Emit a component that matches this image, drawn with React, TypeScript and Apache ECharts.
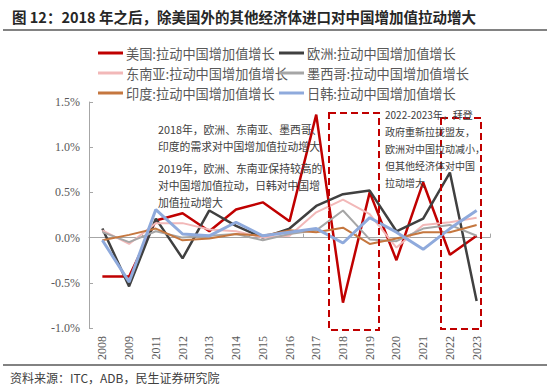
import React, { useEffect, useRef } from "react";
import * as echarts from "echarts";

const categories = ["2008", "2009", "2011", "2012", "2013", "2014", "2015", "2016", "2017", "2018", "2019", "2020", "2021", "2022", "2023"];
const usa = [-0.43, -0.43, 0.19, 0.27, 0.07, 0.31, 0.39, 0.18, 1.36, -0.72, 0.5, -0.25, 0.61, -0.19, 0.02];
const europe = [0.1, -0.54, 0.21, -0.23, 0.3, 0.13, 0.0, 0.1, 0.35, 0.48, 0.52, 0.07, 0.21, 0.72, -0.7];
const asean = [0.08, -0.07, 0.16, 0.16, 0.09, 0.07, 0.0, 0.02, 0.28, 0.42, 0.26, -0.11, 0.14, 0.17, 0.22];
const mexico = [0.06, -0.05, 0.07, 0.0, 0.02, 0.04, -0.03, 0.04, 0.08, 0.3, -0.02, -0.04, 0.1, 0.14, 0.02];
const india = [-0.03, 0.03, 0.1, -0.03, -0.01, 0.04, 0.02, 0.08, 0.06, 0.11, -0.07, -0.01, 0.06, 0.06, 0.14];
const japanKorea = [-0.03, -0.49, 0.31, 0.04, 0.02, 0.17, 0.02, 0.06, 0.1, -0.06, 0.22, 0.06, -0.13, 0.1, 0.3];

const seriesNames = [
  "美国:拉动中国增加值增长",
  "欧洲:拉动中国增加值增长",
  "东南亚:拉动中国增加值增长",
  "墨西哥:拉动中国增加值增长",
  "印度:拉动中国增加值增长",
  "日韩:拉动中国增加值增长",
];
const seriesData = [usa, europe, asean, mexico, india, japanKorea];
const seriesColors = ["#C00000", "#404040", "#F2B8B8", "#A6A6A6", "#C5773F", "#8FAADC"];
const seriesWidths = [2.5, 2.5, 2, 2, 2, 3];

const titleText = "图 12：2018 年之后，除美国外的其他经济体进口对中国增加值拉动增大";
const sourceText = "资料来源：ITC，ADB，民生证券研究院";
const noteLeft = [
  "2018年，欧洲、东南亚、墨西哥、",
  "印度的需求对中国增加值拉动增大",
  "2019年，欧洲、东南亚保持较高的",
  "对中国增加值拉动，日韩对中国增",
  "加值拉动增大",
];
const noteLeftY = [129, 146, 168, 185, 202];
const noteRight = [
  "2022-2023年，拜登",
  "政府重新拉拢盟友，",
  "欧洲对中国拉动减小，",
  "但其他经济体对中国",
  "拉动增大",
];
const noteRightY = [114, 131, 148, 165, 182];

const CJK = '"Noto Sans CJK SC", "Noto Sans", sans-serif';
const SERIF = '"Liberation Serif", "DejaVu Serif", serif';

export default function App() {
  const ref = useRef<HTMLDivElement>(null);
  useEffect(() => {
    if (!ref.current) return;
    const chart = echarts.init(ref.current, null, { renderer: "svg" });
    const graphics: any[] = [
      {
        type: "text",
        left: 12,
        top: 9,
        style: { text: titleText, font: `bold 14.5px ${CJK}`, fill: "#262626" },
      },
      { type: "line", shape: { x1: 3, y1: 30, x2: 547, y2: 30 }, style: { stroke: "#595959", lineWidth: 1.5 } },
      { type: "line", shape: { x1: 3, y1: 365, x2: 547, y2: 365 }, style: { stroke: "#595959", lineWidth: 1.5 } },
      {
        type: "text",
        left: 10,
        top: 371,
        style: { text: sourceText, font: `12px ${CJK}`, fill: "#404040" },
      },
      {
        type: "rect",
        shape: { x: 329, y: 113, width: 50, height: 217 },
        style: { fill: "none", stroke: "#C00000", lineWidth: 2, lineDash: [7, 4] },
        z: 50,
      },
      {
        type: "rect",
        shape: { x: 441, y: 118, width: 40, height: 211 },
        style: { fill: "none", stroke: "#C00000", lineWidth: 2, lineDash: [7, 4] },
        z: 50,
      },
    ];
    noteLeft.forEach((t, i) => {
      graphics.push({
        type: "text",
        x: 158,
        y: noteLeftY[i],
        z: 100,
        style: { text: t, font: `10.8px ${CJK}`, fill: "#404040", verticalAlign: "middle" },
      });
    });
    noteRight.forEach((t, i) => {
      graphics.push({
        type: "text",
        x: 385,
        y: noteRightY[i],
        z: 100,
        style: { text: t, font: `10px ${CJK}`, fill: "#404040", verticalAlign: "middle" },
      });
    });

    const legendCommon = {
      orient: "vertical" as const,
      icon: "rect",
      itemWidth: 25,
      itemHeight: 3,
      itemGap: 6,
      textStyle: { color: "#595959", fontSize: 13.2, fontFamily: CJK, lineHeight: 14, padding: [0, 0, 0, -2] },
      padding: 0,
      selectedMode: false,
    };

    chart.setOption({
      animation: false,
      backgroundColor: "#ffffff",
      grid: { left: 89, right: 60, top: 102, bottom: 58 },
      legend: [
        { ...legendCommon, left: 98, top: 46, data: [seriesNames[0], seriesNames[2], seriesNames[4]] },
        { ...legendCommon, left: 279, top: 46, data: [seriesNames[1], seriesNames[3], seriesNames[5]] },
      ],
      xAxis: [
        {
          type: "category",
          data: categories,
          boundaryGap: true,
          axisLine: { show: false, onZero: false },
          axisTick: { show: false },
          axisLabel: {
            rotate: 90,
            color: "#595959",
            fontFamily: SERIF,
            fontSize: 12,
            margin: 8,
            interval: 0,
          },
        },
        {
          type: "category",
          data: categories,
          position: "bottom",
          boundaryGap: true,
          axisLine: { show: true, onZero: true, lineStyle: { color: "#A6A6A6", width: 1 } },
          axisTick: { show: true, inside: true, length: 4, lineStyle: { color: "#A6A6A6" } },
          axisLabel: { show: false },
        },
      ],
      yAxis: {
        type: "value",
        min: -1,
        max: 1.5,
        interval: 0.5,
        axisLine: { show: true, lineStyle: { color: "#A6A6A6", width: 1 } },
        axisTick: { show: true, inside: true, length: 4, lineStyle: { color: "#A6A6A6" } },
        splitLine: { show: false },
        axisLabel: {
          color: "#595959",
          fontFamily: SERIF,
          fontSize: 12,
          margin: 9,
          formatter: (v: number) => `${v.toFixed(1)}%`,
        },
      },
      series: seriesNames.map((name, i) => ({
        name,
        type: "line",
        xAxisIndex: 0,
        data: seriesData[i],
        symbol: "none",
        color: seriesColors[i],
        lineStyle: { color: seriesColors[i], width: seriesWidths[i] },
      })),
      graphic: graphics,
    });
    return () => chart.dispose();
  }, []);
  return <div ref={ref} style={{ width: 550, height: 386, position: "absolute", left: 0, top: 0 }} />;
}
